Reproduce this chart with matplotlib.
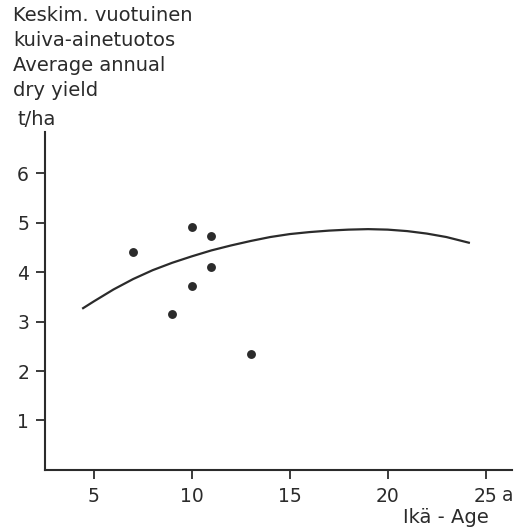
import matplotlib
matplotlib.use("Agg")
import matplotlib.pyplot as plt

# stand age (years) and average annual dry yield (t/ha)
age = [7, 9, 10, 10, 11, 11, 13]
dry_yield = [4.40, 3.15, 4.92, 3.72, 4.73, 4.11, 2.34]

# fitted yield curve
curve_age = [4.4, 5, 6, 7, 8, 9, 10, 11, 12, 13, 14, 15, 16, 17, 18, 19,
             20, 21, 22, 23, 24.2]
curve_yield = [3.26, 3.41, 3.65, 3.86, 4.04, 4.19, 4.32, 4.44, 4.54, 4.63,
               4.71, 4.77, 4.81, 4.84, 4.86, 4.87, 4.86, 4.83, 4.78, 4.71, 4.59]

x_ticks = [5, 10, 15, 20, 25]
y_ticks = [1, 2, 3, 4, 5, 6]

ink = "#2b2b2b"
plt.rcParams["font.family"] = "DejaVu Sans"

fig = plt.figure(figsize=(5.23, 5.31), dpi=100)
ax = fig.add_axes([0.086, 0.115, 0.893, 0.636])

ax.plot(curve_age, curve_yield, color=ink, lw=1.6, solid_capstyle="butt",
        solid_joinstyle="round")
ax.plot(age, dry_yield, "o", color=ink, ms=6.4, mec="none")

ax.set_xlim(2.5, 26.35)
ax.set_ylim(0, 6.83)
ax.set_xticks(x_ticks)
ax.set_yticks(y_ticks)
ax.set_xticklabels([str(v) for v in x_ticks])
ax.set_yticklabels([str(v) for v in y_ticks])

for side in ["top", "right"]:
    ax.spines[side].set_visible(False)
for side in ["left", "bottom"]:
    ax.spines[side].set_linewidth(1.5)
    ax.spines[side].set_color(ink)

ax.tick_params(axis="both", direction="out", length=6.5, width=1.3, color=ink,
               labelsize=13.5, labelcolor=ink)
ax.tick_params(axis="x", pad=6)
ax.tick_params(axis="y", pad=5)

# unit after the last tick label and axis titles
ax.text(25.85, -0.63, "a", fontsize=13.5, color=ink, ha="left", va="baseline",
        transform=ax.transData, clip_on=False)
fig.text(0.934, 0.026, "Ikä - Age", fontsize=14, color=ink, ha="right", va="center")

ylabel_lines = ["Keskim. vuotuinen", "kuiva-ainetuotos", "Average annual", "dry yield"]
for i, line in enumerate(ylabel_lines):
    fig.text(0.025, 0.961 - i * 0.047, line, fontsize=14, color=ink,
             ha="left", va="baseline")
fig.text(0.034, 0.765, "t/ha", fontsize=14, color=ink, ha="left", va="baseline")

fig.savefig("out.png", dpi=100, facecolor="white")
